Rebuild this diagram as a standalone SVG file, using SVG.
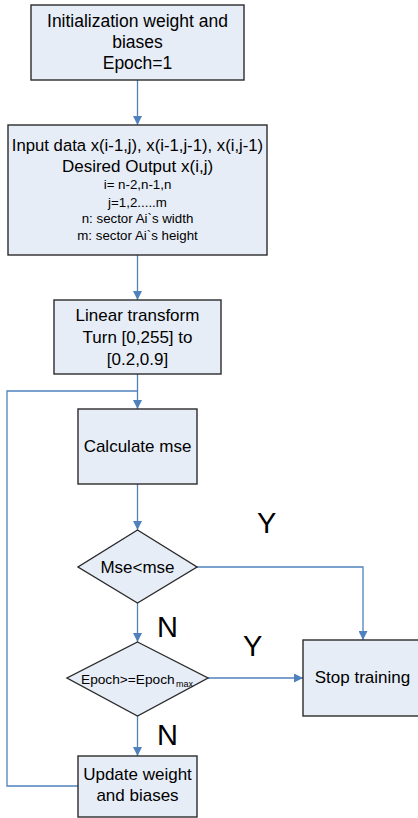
<svg xmlns="http://www.w3.org/2000/svg" width="418" height="818" viewBox="0 0 418 818">
  <style>
    .box { fill: #E7EDF7; stroke: #2b2b2b; stroke-width: 1.4; }
    .t { font-family: "Liberation Sans", Arial, sans-serif; font-size: 17px; fill: #000; text-anchor: middle; }
    .s { font-size: 13.3px; }
    .lbl { font-family: "Liberation Sans", Arial, sans-serif; font-size: 29px; fill: #000; }
    .c { fill: none; stroke: #4F81BD; stroke-width: 1.3; }
    .a { marker-end: url(#arr); }
  </style>
  <defs>
    <marker id="arr" markerUnits="userSpaceOnUse" markerWidth="9" markerHeight="9" viewBox="0 0 10 10" refX="10" refY="5" orient="auto">
      <path d="M0,0 L10,5 L0,10 z" fill="#4F81BD"/>
    </marker>
  </defs>

  <!-- connectors -->
  <g id="connectors">
    <path class="c a" d="M137.5,80 V125"/>
    <path class="c a" d="M137.5,255 V300"/>
    <path class="c a" d="M137.5,374 V409"/>
    <path class="c" d="M78,786 H7 V391 H137.5"/>
    <path class="c a" d="M137.5,484 V530"/>
    <path class="c a" d="M197,567 H363 V640"/>
    <path class="c a" d="M137.5,603 V642"/>
    <path class="c a" d="M208,678 H303"/>
    <path class="c a" d="M137.5,716 V756"/>
  </g>

  <g id="init">
    <rect class="box" x="31" y="5" width="213" height="75"/>
    <text class="t" x="137.5" y="27" style="font-size:17.5px">Initialization weight and</text>
    <text class="t" x="137.5" y="48" style="font-size:17.5px">biases</text>
    <text class="t" x="137.5" y="69" style="font-size:17.5px">Epoch=1</text>
  </g>

  <g id="input">
    <rect class="box" x="8" y="125" width="259" height="130"/>
    <text class="t" x="137.5" y="151" style="font-size:16.7px">Input data x(i-1,j), x(i-1,j-1), x(i,j-1)</text>
    <text class="t" x="137.5" y="172">Desired Output x(i,j)</text>
    <text class="t s" x="137.5" y="189">i= n-2,n-1,n</text>
    <text class="t s" x="137.5" y="207">j=1,2.....m</text>
    <text class="t s" x="137.5" y="223">n: sector Ai`s width</text>
    <text class="t s" x="137.5" y="240">m: sector Ai`s height</text>
  </g>

  <g id="transform">
    <rect class="box" x="54" y="300" width="167" height="74"/>
    <text class="t" x="137.5" y="321">Linear transform</text>
    <text class="t" x="137.5" y="343">Turn [0,255] to</text>
    <text class="t" x="137.5" y="365">[0.2,0.9]</text>
  </g>

  <g id="calc">
    <rect class="box" x="78" y="409" width="119" height="75"/>
    <text class="t" x="137.5" y="452">Calculate mse</text>
  </g>

  <g id="check-mse">
    <polygon class="box" points="137.5,530 197,567 137.5,603 78,567"/>
    <text class="t" x="137.5" y="573">Mse&lt;mse</text>
  </g>

  <g id="check-epoch">
    <polygon class="box" points="137.5,642 208,678 137.5,716 67,678"/>
    <text class="t" x="81" y="684" style="font-size:13.7px;text-anchor:start">Epoch&gt;=Epoch</text>
    <text class="t" x="176" y="687" style="font-size:9px;text-anchor:start">max</text>
  </g>

  <g id="stop">
    <rect class="box" x="303" y="640" width="122" height="76"/>
    <text class="t" x="362.5" y="683">Stop training</text>
  </g>

  <g id="update">
    <rect class="box" x="78" y="756" width="119" height="61"/>
    <text class="t" x="137.5" y="780">Update weight</text>
    <text class="t" x="137.5" y="801">and biases</text>
  </g>

  <g id="labels">
    <text class="lbl" x="257" y="533">Y</text>
    <text class="lbl" x="157" y="637">N</text>
    <text class="lbl" x="243" y="656">Y</text>
    <text class="lbl" x="157" y="745">N</text>
  </g>
</svg>
